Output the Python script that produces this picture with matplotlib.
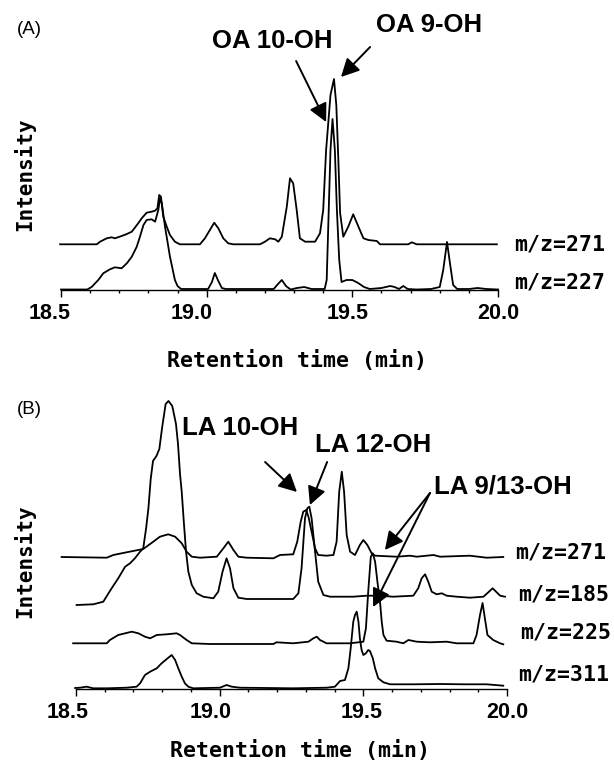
import matplotlib
matplotlib.use("Agg")
import matplotlib.pyplot as plt
import matplotlib.transforms as mtransforms
from matplotlib.ticker import MultipleLocator

# ---- data (time in min, intensity in arbitrary units, offsets included) ----
a271_t = [18.497, 18.623, 18.634, 18.657, 18.674, 18.685, 18.708, 18.726, 18.743, 18.765, 18.777, 18.794,
          18.811, 18.823, 18.831, 18.837, 18.843, 18.851, 18.863, 18.874, 18.891, 18.908, 18.977, 18.994,
          19.011, 19.026, 19.040, 19.057, 19.074, 19.091, 19.183, 19.200, 19.217, 19.235, 19.246, 19.258,
          19.275, 19.286, 19.297, 19.309, 19.320, 19.338, 19.372, 19.389, 19.400, 19.410, 19.425, 19.437,
          19.445, 19.452, 19.458, 19.469, 19.486, 19.503, 19.521, 19.538, 19.555, 19.584, 19.595, 19.692,
          19.704, 19.721, 19.996]
a271_h = [45.7, 45.7, 48.3, 51.7, 52.7, 51.7, 54.0, 56.0, 58.3, 66.7, 71.7, 77.3,
          78.3, 79.3, 81.7, 95.0, 93.3, 73.3, 63.3, 55.0, 48.3, 45.7, 45.7, 51.7,
          60.0, 67.3, 61.7, 51.7, 46.7, 45.7, 45.7, 48.3, 51.7, 50.7, 48.3, 53.3,
          83.3, 111.7, 106.7, 80.0, 51.7, 48.3, 48.3, 56.7, 80.0, 140, 195, 211,
          185, 130, 77, 53.3, 63.3, 75.7, 63.3, 51.7, 50.0, 49.0, 45.7, 45.7,
          47.7, 45.7, 45.7]

a227_t = [18.500, 18.590, 18.605, 18.618, 18.628, 18.645, 18.668, 18.685, 18.708, 18.726, 18.743, 18.760,
          18.771, 18.783, 18.794, 18.811, 18.823, 18.834, 18.840, 18.846, 18.857, 18.874, 18.891, 18.900,
          18.912, 19.005, 19.018, 19.028, 19.040, 19.052, 19.065, 19.230, 19.248, 19.258, 19.272, 19.288,
          19.310, 19.335, 19.360, 19.405, 19.412, 19.418, 19.425, 19.432, 19.440, 19.447, 19.455, 19.463,
          19.480, 19.500, 19.520, 19.540, 19.560, 19.600, 19.630, 19.645, 19.660, 19.675, 19.690, 19.720,
          19.770, 19.800, 19.812, 19.825, 19.836, 19.846, 19.860, 19.900, 19.930, 19.960, 20.000]
a227_h = [0.5, 0.5, 3, 7, 10, 16.7, 20.7, 22.7, 21.7, 26.7, 33.3, 43.3,
          53.3, 65.0, 70.0, 70.7, 68.3, 80.0, 91.7, 86.7, 63.3, 33.3, 10, 4,
          1, 1, 8, 17, 9, 2, 1, 1, 7, 10, 4, 0.5,
          2, 3, 1, 1, 10, 70, 140, 171, 140, 80, 30, 8,
          10, 10, 7, 3, 1, 2, 4, 3, 1, 4, 1, 0.5,
          1, 3, 20, 48, 25, 5, 1, 1, 2, 1, 0.5]

b271_t = [18.450, 18.607, 18.630, 18.676, 18.734, 18.769, 18.792, 18.821, 18.845, 18.868, 18.885, 18.903,
          18.932, 18.990, 19.013, 19.030, 19.048, 19.065, 19.094, 19.187, 19.210, 19.256, 19.270, 19.282,
          19.291, 19.301, 19.309, 19.320, 19.332, 19.343, 19.372, 19.396, 19.407, 19.416, 19.425, 19.433,
          19.442, 19.454, 19.471, 19.488, 19.500, 19.514, 19.529, 19.541, 19.616, 19.662, 19.686, 19.744,
          19.767, 19.871, 19.929, 19.987]
b271_h = [132, 131.3, 134, 136.7, 140, 147.3, 152.3, 154.7, 152.3, 145.7, 137.3, 132.3,
          131.3, 132.3, 140.7, 147.3, 139, 132.3, 131.3, 130.7, 134, 134.7, 147.3, 167.3,
          177.3, 179, 172.3, 157.3, 140.7, 134, 133.3, 134, 147.3, 197.3, 217.3, 197.3,
          154, 137.3, 134, 144, 149, 144, 135.7, 133.3, 132.3, 133.3, 132.3, 134,
          132.3, 133.3, 131.3, 132]

b185_t = [18.502, 18.560, 18.595, 18.613, 18.624, 18.647, 18.671, 18.688, 18.705, 18.723, 18.734, 18.744,
          18.752, 18.760, 18.768, 18.780, 18.790, 18.800, 18.812, 18.822, 18.835, 18.848, 18.855, 18.862,
          18.868, 18.876, 18.883, 18.891, 18.903, 18.920, 18.943, 18.978, 18.995, 19.010, 19.024, 19.036,
          19.048, 19.065, 19.094, 19.256, 19.274, 19.285, 19.297, 19.305, 19.312, 19.320, 19.332, 19.343,
          19.361, 19.384, 19.465, 19.512, 19.558, 19.604, 19.674, 19.691, 19.703, 19.715, 19.726, 19.738,
          19.755, 19.773, 19.790, 19.825, 19.871, 19.918, 19.935, 19.950, 19.964, 19.976, 19.993]
b185_h = [84, 84.7, 87.3, 95.7, 100.7, 110.7, 122.3, 125.7, 130.7, 137.3, 140.7, 160.7,
          180.7, 210, 228, 233, 240, 262, 285, 288, 283, 265, 245, 215,
          197, 164, 137.3, 117.3, 104, 95.7, 92.3, 90.7, 97.3, 117.3, 130.7, 120.7,
          100.7, 91.3, 90, 90, 95.7, 120.7, 170.7, 180.7, 182.3, 170.7, 137.3, 107.3,
          94, 92.3, 92.3, 93.3, 93.3, 92.3, 93.3, 100.7, 110.7, 114.7, 107.3, 97.3,
          94.7, 95.7, 93.3, 92.3, 91.3, 92.3, 96.7, 100.7, 96.7, 93.3, 92.3]

b225_t = [18.490, 18.607, 18.618, 18.647, 18.694, 18.717, 18.740, 18.758, 18.781, 18.816, 18.850, 18.862,
          18.885, 18.903, 18.966, 19.187, 19.198, 19.256, 19.309, 19.326, 19.338, 19.349, 19.361, 19.372,
          19.454, 19.500, 19.509, 19.517, 19.526, 19.533, 19.541, 19.549, 19.558, 19.564, 19.570, 19.581,
          19.616, 19.639, 19.657, 19.686, 19.732, 19.790, 19.825, 19.883, 19.894, 19.906, 19.915, 19.923,
          19.932, 19.952, 19.976, 19.987]
b225_h = [45.7, 45.7, 49, 54, 57.3, 55.7, 52.3, 50.7, 54, 54.7, 55.7, 54,
          49, 45.7, 45, 45, 46.7, 45.7, 47.3, 50.7, 52.3, 49, 47.3, 45.7,
          45.7, 47.3, 60.7, 97.3, 132.3, 135.7, 127.3, 107.3, 87.3, 67.3, 54, 48.3,
          47.3, 45.7, 49, 47.3, 46.7, 47.3, 45.7, 45.7, 54, 74, 86, 70.7,
          54, 49, 45.7, 44.7]

b311_t = [18.497, 18.514, 18.537, 18.560, 18.607, 18.676, 18.711, 18.723, 18.740, 18.758, 18.781, 18.798,
          18.816, 18.833, 18.845, 18.856, 18.868, 18.879, 18.891, 18.908, 19.001, 19.024, 19.042, 19.071,
          19.256, 19.372, 19.401, 19.419, 19.436, 19.448, 19.456, 19.465, 19.471, 19.477, 19.483, 19.488,
          19.494, 19.500, 19.509, 19.517, 19.523, 19.533, 19.541, 19.552, 19.570, 19.593, 19.674, 19.767,
          19.848, 19.929, 19.987]
b311_h = [1, 1.3, 2.3, 0.7, 0.7, 1.3, 2.3, 5.7, 14, 17.3, 20.7, 25.7,
          30, 34, 29, 20.7, 12.3, 5.7, 2.3, 0.7, 1.3, 4, 2.3, 1.3,
          0.7, 1.3, 2.3, 8, 9, 20.7, 40.7, 67.3, 74, 77.3, 67.3, 50.7,
          39, 34, 35.7, 39, 38, 30.7, 20.7, 10.7, 6.7, 4.7, 4.7, 5,
          4.7, 4.7, 3.3]

# the original software draws its tick labels a little left of the ticks (pixels)
label_shift_a = [0, -11, -15, -5]
label_shift_b = [-1, -8, -9, -2]

W, H = 614, 761
fig = plt.figure(figsize=(W / 100, H / 100), dpi=100)
fig.patch.set_facecolor("white")


def px(x, y):
    return x / W, 1 - y / H


mono = "DejaVu Sans Mono"
arial = "Liberation Sans"


def setup(ax, top, shifts):
    ax.set_xlim(18.5, 20.0)
    ax.set_ylim(0, top)
    for s in ("top", "left", "right"):
        ax.spines[s].set_visible(False)
    ax.spines["bottom"].set_linewidth(1.0)
    ax.set_yticks([])
    ax.xaxis.set_major_locator(MultipleLocator(0.5))
    ax.xaxis.set_minor_locator(MultipleLocator(0.1))
    ax.tick_params(axis="x", which="major", direction="out", length=5, width=1.0, pad=4,
                   labelsize=15.5)
    ax.tick_params(axis="x", which="minor", direction="out", length=2, width=1.0)
    labels = ax.set_xticklabels([f"{v:.1f}" for v in ax.get_xticks()], fontfamily=arial,
                                fontweight="bold")
    for lab, dx in zip(labels, shifts):
        off = mtransforms.ScaledTranslation(dx / 100, 0, fig.dpi_scale_trans)
        lab.set_transform(lab.get_transform() + off)
    ax.patch.set_alpha(0)


arrow = dict(arrowstyle="-|>,head_length=0.55,head_width=0.28", color="black", lw=1.4,
             mutation_scale=20, shrinkA=0, shrinkB=0)

# ---------------- panel A ----------------
axA = fig.add_axes([61 / W, (H - 290) / H, 437 / W, 230 / H])
setup(axA, 230, label_shift_a)
for t, h in ((a271_t, a271_h), (a227_t, a227_h)):
    axA.plot(t, h, color="black", lw=1.3, clip_on=False)

axA.annotate("", xy=(19.410, 168), xytext=(19.307, 229), arrowprops=arrow, annotation_clip=False)
axA.annotate("", xy=(19.461, 213), xytext=(19.561, 243), arrowprops=arrow, annotation_clip=False)

fig.text(*px(17, 30), "(A)", fontsize=13.5, fontfamily=arial, va="center", ha="left")
fig.text(*px(212, 41), "OA 10-OH", fontsize=18.5, fontweight="bold", fontfamily=arial,
         va="center", ha="left")
fig.text(*px(376, 25), "OA 9-OH", fontsize=18.5, fontweight="bold", fontfamily=arial,
         va="center", ha="left")
fig.text(*px(514, 245), "m/z=271", fontsize=15.5, fontweight="bold", fontfamily=mono, va="center")
fig.text(*px(514, 282), "m/z=227", fontsize=15.5, fontweight="bold", fontfamily=mono, va="center")
fig.text(*px(297, 360), "Retention time (min)", fontsize=15.5, fontweight="bold", fontfamily=mono,
         ha="center", va="center")
fig.text(*px(24, 174), "Intensity", fontsize=15, fontweight="bold", fontfamily=mono,
         rotation=90, ha="center", va="center")

# ---------------- panel B ----------------
axB = fig.add_axes([76 / W, (H - 689) / H, 431 / W, 293 / H])
setup(axB, 293, label_shift_b)
for t, h in ((b271_t, b271_h), (b185_t, b185_h), (b225_t, b225_h), (b311_t, b311_h)):
    axB.plot(t, h, color="black", lw=1.3, clip_on=False)

axB.annotate("", xy=(19.269, 197), xytext=(19.158, 227), arrowprops=arrow, annotation_clip=False)
axB.annotate("", xy=(19.314, 184), xytext=(19.374, 227), arrowprops=arrow, annotation_clip=False)
axB.annotate("", xy=(19.575, 139), xytext=(19.732, 196), arrowprops=arrow, annotation_clip=False)
axB.annotate("", xy=(19.534, 82), xytext=(19.732, 196), arrowprops=arrow, annotation_clip=False)

fig.text(*px(17, 410), "(B)", fontsize=13.5, fontfamily=arial, va="center", ha="left")
fig.text(*px(182, 428), "LA 10-OH", fontsize=18.5, fontweight="bold", fontfamily=arial,
         va="center", ha="left")
fig.text(*px(315, 445), "LA 12-OH", fontsize=18.5, fontweight="bold", fontfamily=arial,
         va="center", ha="left")
fig.text(*px(434, 487), "LA 9/13-OH", fontsize=18.5, fontweight="bold", fontfamily=arial,
         va="center", ha="left")
fig.text(*px(515, 553), "m/z=271", fontsize=15.5, fontweight="bold", fontfamily=mono, va="center")
fig.text(*px(518, 595), "m/z=185", fontsize=15.5, fontweight="bold", fontfamily=mono, va="center")
fig.text(*px(520, 633), "m/z=225", fontsize=15.5, fontweight="bold", fontfamily=mono, va="center")
fig.text(*px(518, 675), "m/z=311", fontsize=15.5, fontweight="bold", fontfamily=mono, va="center")
fig.text(*px(300, 750), "Retention time (min)", fontsize=15.5, fontweight="bold", fontfamily=mono,
         ha="center", va="center")
fig.text(*px(24, 561), "Intensity", fontsize=15, fontweight="bold", fontfamily=mono,
         rotation=90, ha="center", va="center")

fig.savefig("out.png", dpi=100, facecolor="white")
